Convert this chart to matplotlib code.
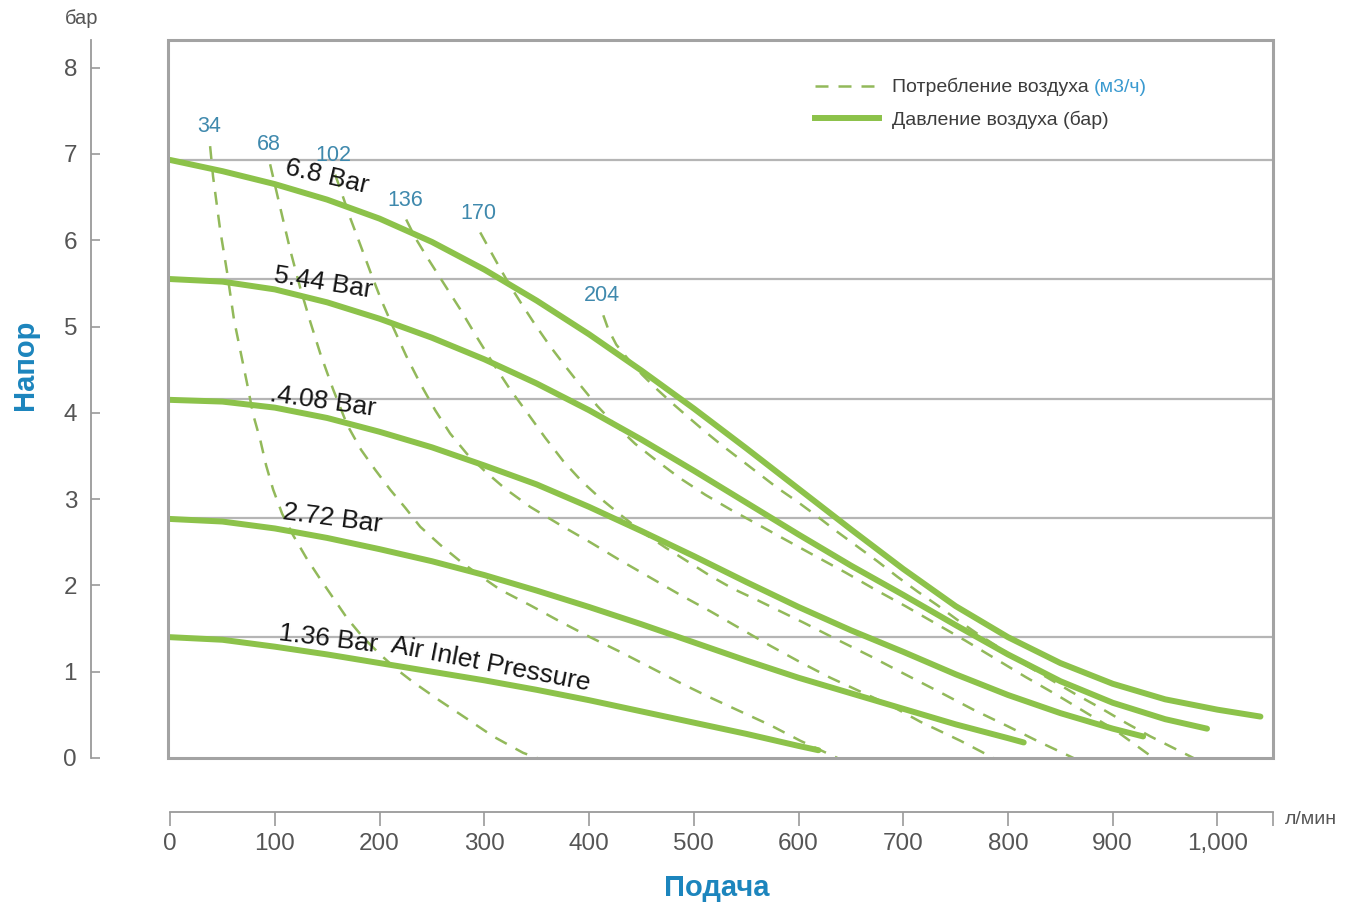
import matplotlib.pyplot as plt
from matplotlib.lines import Line2D
from matplotlib.patches import Rectangle

plt.rcParams['font.family'] = ['Liberation Sans', 'DejaVu Sans']

# давление воздуха (сплошные), подача л/мин -> напор бар
p68_x = [0, 50, 100, 150, 200, 250, 300, 350, 400, 450, 500, 550, 600, 650, 700, 750, 800, 850, 900, 950, 1000, 1041]
p68_y = [6.93, 6.80, 6.65, 6.47, 6.25, 5.98, 5.66, 5.30, 4.91, 4.49, 4.05, 3.59, 3.12, 2.65, 2.19, 1.76, 1.40, 1.10,
         0.86, 0.68, 0.56, 0.48]
p544_x = [0, 50, 100, 150, 200, 250, 300, 350, 400, 450, 500, 550, 600, 650, 700, 750, 800, 850, 900, 950, 990]
p544_y = [5.55, 5.52, 5.43, 5.28, 5.09, 4.87, 4.62, 4.34, 4.03, 3.69, 3.33, 2.96, 2.59, 2.23, 1.89, 1.54, 1.20, 0.89,
          0.64, 0.45, 0.34]
p408_x = [0, 50, 100, 150, 200, 250, 300, 350, 400, 450, 500, 550, 600, 650, 700, 750, 800, 850, 900, 929]
p408_y = [4.15, 4.13, 4.06, 3.94, 3.78, 3.60, 3.39, 3.17, 2.91, 2.63, 2.34, 2.04, 1.75, 1.48, 1.23, 0.97, 0.73, 0.52,
          0.34, 0.25]
p272_x = [0, 50, 100, 150, 200, 250, 300, 350, 400, 450, 500, 550, 600, 650, 700, 750, 800, 815]
p272_y = [2.77, 2.74, 2.66, 2.55, 2.42, 2.28, 2.12, 1.94, 1.75, 1.55, 1.34, 1.13, 0.93, 0.75, 0.57, 0.39, 0.23, 0.18]
p136_x = [0, 50, 100, 150, 200, 250, 300, 350, 400, 450, 500, 550, 600, 619]
p136_y = [1.40, 1.37, 1.29, 1.20, 1.10, 1.00, 0.90, 0.79, 0.67, 0.54, 0.41, 0.28, 0.14, 0.09]

# потребление воздуха (пунктир), м3/ч
d34_x = [38.2, 41, 47.8, 54.4, 61, 66.9, 73.5, 79.3, 86, 91.7, 98.4, 107, 117.5, 130, 143, 156, 169, 184,
         200.6, 216, 232, 258, 284, 308.5, 337, 350.5]
d34_y = [7.09, 6.74, 6.12, 5.63, 5.08, 4.73, 4.34, 3.98, 3.69, 3.39, 3.11, 2.83, 2.58, 2.32, 2.08, 1.85, 1.62, 1.40,
         1.20, 1.03, 0.88, 0.66, 0.45, 0.25, 0.06, 0.0]
d68_x = [95.5, 105.1, 114.6, 124.2, 133.7, 143.3, 155.7, 169.1, 182.4, 195.8, 210.1, 224.5, 238.8, 257.9, 277.0,
         296.1, 315.2, 343.8, 372.5, 401.1, 429.8, 458.5, 487.1, 515.8, 544.4, 573.1, 601.7, 637.1]
d68_y = [6.88, 6.38, 5.89, 5.45, 5.06, 4.69, 4.27, 3.86, 3.57, 3.34, 3.11, 2.90, 2.68, 2.47, 2.28,
         2.11, 1.95, 1.77, 1.58, 1.40, 1.23, 1.05, 0.87, 0.70, 0.54, 0.38, 0.20, 0.0]
d102_x = [157.6, 164.3, 171.9, 181.5, 191.0, 201.5, 213.0, 225.4, 238.8, 253.1, 267.4, 283.7, 300.9, 320.0, 343.8,
          372.5, 401.1, 429.8, 458.5, 487.1, 515.8, 544.4, 573.1, 601.7, 630.4, 659.0, 687.7, 716.3, 754.5, 786.1]
d102_y = [6.76, 6.53, 6.26, 5.95, 5.64, 5.31, 4.99, 4.66, 4.34, 4.03, 3.76, 3.52, 3.32, 3.12, 2.91,
          2.70, 2.50, 2.29, 2.09, 1.89, 1.70, 1.50, 1.30, 1.11, 0.93, 0.77, 0.61, 0.42, 0.20, 0.0]
d136_x = [225.4, 234.0, 245.5, 260.7, 277.0, 293.2, 308.5, 324.7, 341.0, 358.2, 375.4, 393.5, 410.7, 429.8, 451.8,
          472.8, 493.8, 515.8, 537.7, 560.6, 582.6, 604.6, 637.1, 668.6, 700.1, 735.4, 766.9, 799.4, 830.9, 862.5]
d136_y = [6.24, 6.03, 5.80, 5.51, 5.20, 4.87, 4.57, 4.27, 4.00, 3.71, 3.44, 3.20, 3.01, 2.82, 2.61,
          2.44, 2.28, 2.11, 1.96, 1.83, 1.70, 1.57, 1.37, 1.18, 0.98, 0.76, 0.56, 0.37, 0.18, 0.0]
d170_x = [296.1, 305.6, 315.2, 324.7, 336.2, 348.6, 362.9, 377.3, 391.6, 407.8, 425.0, 444.1, 465.1, 487.1, 511.0,
          534.9, 560.6, 587.4, 616.0, 644.7, 673.4, 702.0, 730.7, 759.3, 788.0, 816.6, 845.3, 873.9, 902.6, 938.9]
d170_y = [6.09, 5.88, 5.67, 5.47, 5.25, 5.02, 4.77, 4.54, 4.32, 4.08, 3.86, 3.64, 3.44, 3.24, 3.05,
          2.88, 2.71, 2.53, 2.34, 2.15, 1.95, 1.76, 1.56, 1.36, 1.15, 0.94, 0.74, 0.53, 0.32, 0.0]
d204_x = [413.6, 418.3, 426.0, 437.4, 450.8, 465.1, 479.5, 494.7, 511.0, 527.2, 544.4, 561.6, 579.8, 598.9, 617.9,
          637.1, 656.2, 675.3, 694.4, 713.5, 732.6, 751.7, 770.8, 792.7, 816.6, 840.5, 864.4, 888.3, 912.1, 936.0, 977.1]
d204_y = [5.13, 4.97, 4.79, 4.62, 4.44, 4.27, 4.11, 3.95, 3.78, 3.62, 3.46, 3.30, 3.13, 2.97, 2.80,
          2.62, 2.45, 2.28, 2.10, 1.93, 1.77, 1.60, 1.44, 1.27, 1.08, 0.91, 0.74, 0.58, 0.41, 0.25, 0.0]

pressure_labels = ['6.8 Bar', '5.44 Bar', '.4.08 Bar', '2.72 Bar', '1.36 Bar']
air_labels = ['34', '68', '102', '136', '170', '204']
grid_levels = [6.93, 5.55, 4.16, 2.78, 1.40]
x_ticks = [0, 100, 200, 300, 400, 500, 600, 700, 800, 900, 1000]
y_ticks = [0, 1, 2, 3, 4, 5, 6, 7, 8]

solid_c = '#8cc24a'
dash_c = '#92b95a'
blue = '#1c85bd'
num_blue = '#3f89ad'
gray = '#a3a3a3'

fig = plt.figure(figsize=(13.54, 9.06), dpi=100)
ax = fig.add_axes([168 / 1354, 148 / 906, 1105 / 1354, 718 / 906])
xmax = 1053
ax.set_xlim(-2, xmax)
ax.set_ylim(0, 8.32)

for lvl in grid_levels:
    ax.axhline(lvl, color='#b5b5b5', lw=1.6, zorder=1)

dashed = [(d34_x, d34_y), (d68_x, d68_y), (d102_x, d102_y), (d136_x, d136_y), (d170_x, d170_y), (d204_x, d204_y)]
for (xs, ys), lab in zip(dashed, air_labels):
    ax.plot(xs, ys, color=dash_c, lw=1.8, dashes=(5.2, 4.0), zorder=2)
    ax.annotate(lab, xy=(xs[0], ys[0]), xytext=(-1, 14), textcoords='offset points',
                ha='center', va='center', fontsize=15.5, color=num_blue, zorder=5)

solids = [(p68_x, p68_y), (p544_x, p544_y), (p408_x, p408_y), (p272_x, p272_y), (p136_x, p136_y)]
for xs, ys in solids:
    ax.plot(xs, ys, color=solid_c, lw=4.3, solid_capstyle='round', solid_joinstyle='round', zorder=3)

# подписи кривых давления
label_pos = [(150, 6.74, -13), (146, 5.51, -9), (146, 4.13, -8), (155, 2.77, -7.5), (151, 1.38, -7)]
for txt, (lx, ly, rot) in zip(pressure_labels, label_pos):
    ax.text(lx, ly, txt, rotation=rot, rotation_mode='anchor', ha='center', va='center',
            fontsize=19, color='#151515', zorder=6)
ax.text(306, 1.08, 'Air Inlet Pressure', rotation=-11, rotation_mode='anchor', ha='center', va='center',
        fontsize=19, color='#151515', zorder=6)

# рамка
ax.add_patch(Rectangle((0, 0), 1, 1, transform=ax.transAxes, fill=False, ec=gray, lw=2.2,
                       clip_on=False, zorder=7))

# оси
ax.spines['top'].set_visible(False)
ax.spines['right'].set_visible(False)
ax.spines['left'].set_position(('outward', 77 * 0.72))
ax.spines['bottom'].set_position(('outward', 54 * 0.72))
ax.spines['left'].set_bounds(0, 8.32)
ax.spines['bottom'].set_bounds(0, xmax)
for s in ['left', 'bottom']:
    ax.spines[s].set_color('#9a9a9a')
    ax.spines[s].set_linewidth(1.3)

ax.set_yticks(y_ticks)
ax.set_xticks(x_ticks + [xmax])
ax.set_xticklabels([f'{v:,}' for v in x_ticks] + [''])
ax.tick_params(axis='y', direction='in', length=6.5, width=1.2, color='#9a9a9a',
               labelsize=17.5, labelcolor='#555555', pad=10)
ax.tick_params(axis='x', direction='out', length=10, width=1.2, color='#9a9a9a',
               labelsize=17.5, labelcolor='#555555', pad=5)

fig.text(82 / 1354, 1 - 18 / 906, 'бар', ha='center', va='center', fontsize=14.5, color='#555555')
fig.text(1285 / 1354, 1 - 820 / 906, 'л/мин', ha='left', va='center', fontsize=14, color='#555555')
fig.text(25 / 1354, 1 - 365 / 906, 'Напор', rotation=90, ha='center', va='center',
         fontsize=21, fontweight='bold', color=blue)
fig.text(717 / 1354, 1 - 888 / 906, 'Подача', ha='center', va='center',
         fontsize=21, fontweight='bold', color=blue)

# легенда
h1 = Line2D([], [], color=dash_c, lw=1.8, dashes=(5.2, 4.0))
h2 = Line2D([], [], color=solid_c, lw=4.3)
leg = ax.legend([h1, h2], ['Потребление воздуха', 'Давление воздуха (бар)'], loc='upper left',
                bbox_to_anchor=(0.5855, 0.947), frameon=False, fontsize=14, handlelength=3.3,
                handletextpad=0.65, labelspacing=0.75, borderpad=0, borderaxespad=0)
for t in leg.get_texts():
    t.set_color('#3c3c3c')

fig.canvas.draw()
bb = leg.get_texts()[0].get_window_extent()
W, H = fig.get_size_inches() * fig.dpi
fig.text((bb.x1 + 5) / W, bb.y0 / H, '(м3/ч)', ha='left', va='bottom', fontsize=14, color='#3a9ad0')

fig.savefig('out.png', dpi=100)
